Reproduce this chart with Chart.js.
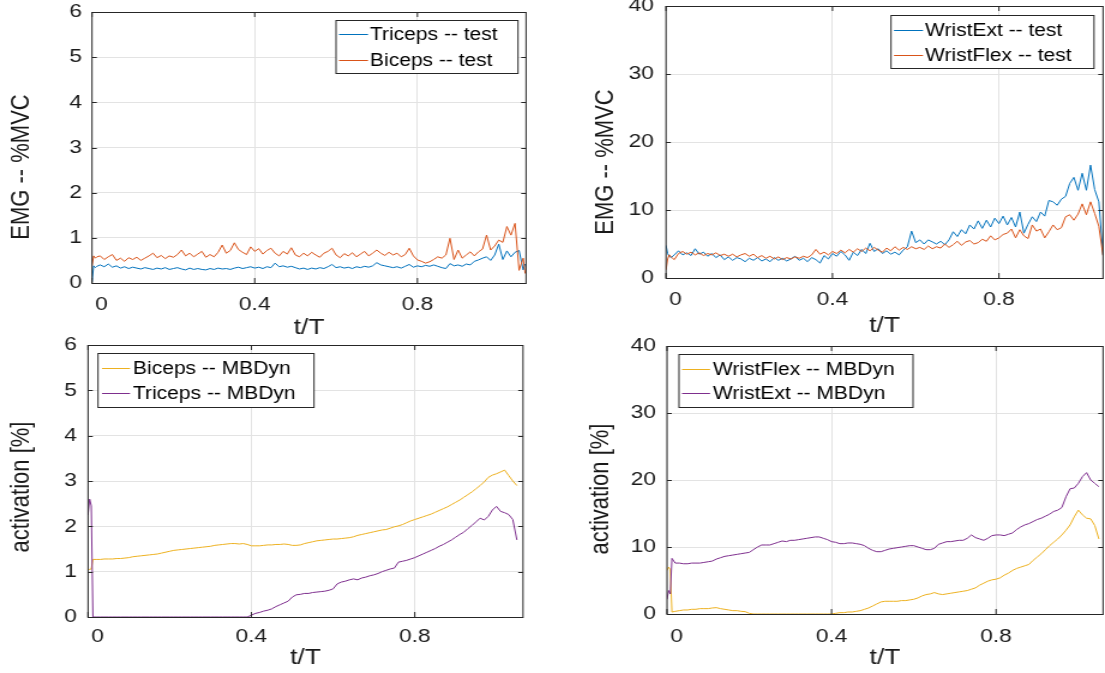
<!DOCTYPE html>
<html>
<head>
<meta charset="utf-8">
<script src="https://cdn.jsdelivr.net/npm/chart.js@4.4.0/dist/chart.umd.min.js"></script>
<style>
  html, body { margin: 0; padding: 0; background: #fff; }
  body { width: 1105px; height: 673px; position: relative; overflow: hidden; }
  canvas { position: absolute; transform-origin: 0 0; }
</style>
</head>
<body>
<canvas id="tl"></canvas>
<canvas id="tr"></canvas>
<canvas id="bl"></canvas>
<canvas id="br"></canvas>
<script>
// sample times t/T (shared by all four panels)
const tGrid = [
  0, 0.004, 0.008, 0.012,
  0.02, 0.03, 0.04, 0.05, 0.06, 0.07, 0.08, 0.09,
  0.10, 0.11, 0.12, 0.13, 0.14, 0.15, 0.16, 0.17, 0.18, 0.19,
  0.20, 0.21, 0.22, 0.23, 0.24, 0.25, 0.26, 0.27, 0.28, 0.29,
  0.30, 0.31, 0.32, 0.33, 0.34, 0.35, 0.36, 0.37, 0.38, 0.39,
  0.40, 0.41, 0.42, 0.43, 0.44, 0.45, 0.46, 0.47, 0.48, 0.49,
  0.50, 0.51, 0.52, 0.53, 0.54, 0.55, 0.56, 0.57, 0.58, 0.59,
  0.60, 0.61, 0.62, 0.63, 0.64, 0.65, 0.66, 0.67, 0.68, 0.69,
  0.70, 0.71, 0.72, 0.73, 0.74, 0.75, 0.76, 0.77, 0.78, 0.79,
  0.80, 0.81, 0.82, 0.83, 0.84, 0.85, 0.86, 0.87, 0.88, 0.89,
  0.90, 0.91, 0.92, 0.93, 0.94, 0.95, 0.96, 0.97, 0.98, 0.99,
  1.00, 1.01, 1.02, 1.03, 1.04, 1.05, 1.06, 1.065
];

// top left: EMG elbow muscles (%MVC)
const tricepsTest = [
  0.02, 0.38, 0.34, 0.37,
  0.40, 0.36, 0.42, 0.35, 0.38, 0.33, 0.36, 0.32,
  0.35, 0.33, 0.31, 0.34, 0.32, 0.30, 0.33, 0.31, 0.34, 0.30,
  0.32, 0.34, 0.31, 0.29, 0.33, 0.30, 0.32, 0.30, 0.29, 0.32,
  0.30, 0.33, 0.31, 0.32, 0.30, 0.33, 0.35, 0.32, 0.34, 0.36,
  0.33, 0.35, 0.32, 0.36, 0.34, 0.44, 0.36, 0.38, 0.35, 0.37,
  0.34, 0.31, 0.33, 0.30, 0.33, 0.31, 0.34, 0.32, 0.36, 0.41,
  0.34, 0.36, 0.33, 0.35, 0.32, 0.36, 0.34, 0.37, 0.35, 0.38,
  0.45, 0.40, 0.38, 0.36, 0.34, 0.36, 0.33, 0.37, 0.41, 0.35,
  0.38, 0.36, 0.39, 0.37, 0.40, 0.37, 0.34, 0.32, 0.43, 0.38,
  0.40, 0.37, 0.42, 0.40, 0.48, 0.51, 0.55, 0.58, 0.50, 0.62,
  0.86, 0.52, 0.71, 0.58, 0.68, 0.72, 0.29, 0.42
];
const bicepsTest = [
  0.38, 0.60, 0.55, 0.58,
  0.60, 0.52, 0.58, 0.63, 0.50, 0.55, 0.48, 0.56,
  0.52, 0.57, 0.50, 0.55, 0.60, 0.66, 0.56, 0.61, 0.54, 0.60,
  0.57, 0.63, 0.73, 0.60, 0.66, 0.58, 0.64, 0.70, 0.57, 0.63,
  0.58, 0.68, 0.84, 0.66, 0.72, 0.89, 0.74, 0.68, 0.63, 0.80,
  0.70, 0.76, 0.64, 0.72, 0.77, 0.66, 0.60, 0.70, 0.64, 0.78,
  0.62, 0.58, 0.66, 0.60, 0.68, 0.62, 0.57, 0.66, 0.70, 0.77,
  0.62, 0.56, 0.65, 0.60, 0.67, 0.58, 0.64, 0.70, 0.60, 0.66,
  0.73, 0.66, 0.61, 0.68, 0.62, 0.66, 0.58, 0.63, 0.77, 0.60,
  0.51, 0.48, 0.44, 0.47, 0.52, 0.58, 0.55, 0.62, 0.99, 0.52,
  0.73, 0.55, 0.62, 0.69, 0.60, 0.69, 0.75, 1.06, 0.73, 0.82,
  0.95, 0.90, 1.25, 1.06, 1.32, 0.28, 0.55, 0.21
];

// top right: EMG wrist muscles (%MVC)
const wristExtTest = [
  4.8, 3.6, 3.2, 3.0,
  3.4, 4.0, 3.4, 3.7, 3.3, 4.3, 3.5, 3.8,
  3.2, 3.6, 3.0, 3.4, 2.7, 3.1, 2.6, 3.0, 2.8, 2.4,
  2.9, 2.6, 3.0, 2.5, 2.8, 2.4, 3.0, 2.6, 2.9, 2.5,
  2.8, 3.2, 2.6, 2.9, 2.4, 3.0, 2.7, 2.2, 3.3, 2.8,
  3.6, 3.2, 3.9, 3.4, 2.6, 3.8, 3.3, 4.2, 3.6, 5.1,
  3.9, 4.3, 3.6, 4.0, 3.5, 3.8, 3.4, 4.1, 4.6, 6.9,
  5.2, 5.6, 5.0, 5.6, 5.3, 5.0, 5.4, 4.9, 5.6, 6.8,
  6.1, 7.1, 6.5, 7.8, 7.2, 8.4, 7.3, 8.5, 7.5, 8.8,
  8.0, 9.1, 7.8, 8.9, 7.5, 9.7, 6.6, 7.9, 9.0, 8.3,
  9.7, 9.1, 11.4, 11.2, 10.7, 11.6, 12.0, 13.9, 14.8, 12.9,
  15.4, 12.9, 16.6, 13.0, 11.2, 3.4
];
const wristFlexTest = [
  1.2, 2.8, 3.4, 3.1,
  2.7, 3.6, 3.9, 3.5, 3.8, 3.4, 3.7, 3.3,
  3.6, 3.4, 3.7, 3.3, 3.5, 3.2, 3.5, 3.1, 3.4, 3.6,
  3.2, 3.5, 3.0, 3.3, 2.9, 3.2, 2.8, 3.1, 2.7, 3.0,
  2.8, 3.1, 2.9, 3.2, 3.0, 3.4, 4.2, 3.5, 3.8, 3.4,
  3.9, 3.6, 4.1, 3.7, 4.2, 3.8, 4.3, 3.9, 4.4, 4.0,
  4.5, 4.1, 3.8, 4.4, 4.0, 4.6, 4.1, 4.5, 4.2, 4.6,
  4.3, 4.5, 4.2, 4.7, 4.3, 4.6, 4.4, 5.0, 4.5, 4.9,
  5.4, 4.8, 5.3, 5.5, 5.0, 5.2, 5.7, 5.4, 6.2, 5.6,
  5.9, 6.4, 6.6, 7.2, 5.9, 7.1, 6.2, 5.8, 7.8, 6.9,
  7.2, 5.9, 6.8, 7.8, 7.1, 7.4, 9.0, 9.3, 8.5, 9.4,
  10.9, 9.3, 11.2, 9.5, 7.6, 3.3
];

// bottom left: MBDyn activation, elbow (%)
const bicepsMB = [
  1.05, 1.05, 1.06, 1.27,
  1.27, 1.27, 1.28, 1.28, 1.28, 1.29, 1.29, 1.30,
  1.31, 1.33, 1.34, 1.35, 1.36, 1.37, 1.38, 1.39, 1.41, 1.43,
  1.45, 1.47, 1.48, 1.49, 1.50, 1.51, 1.52, 1.53, 1.54, 1.55,
  1.56, 1.58, 1.59, 1.60, 1.61, 1.62, 1.62, 1.61, 1.62, 1.60,
  1.57, 1.57, 1.57, 1.58, 1.59, 1.59, 1.60, 1.60, 1.61, 1.60,
  1.58, 1.58, 1.59, 1.62, 1.64, 1.66, 1.68, 1.69, 1.70, 1.71,
  1.72, 1.72, 1.73, 1.74, 1.75, 1.77, 1.80, 1.82, 1.84, 1.86,
  1.88, 1.90, 1.92, 1.93, 1.96, 1.99, 2.01, 2.04, 2.08, 2.12,
  2.15, 2.18, 2.21, 2.24, 2.27, 2.31, 2.35, 2.39, 2.43, 2.48,
  2.53, 2.58, 2.64, 2.70, 2.76, 2.83, 2.90, 2.98, 3.08, 3.13,
  3.16, 3.20, 3.24, 3.12, 3.00, 2.90
];
const tricepsMB = [
  2.25, 2.60, 2.45, 0,
  0, 0, 0, 0, 0, 0, 0, 0,
  0, 0, 0, 0, 0, 0, 0, 0, 0, 0,
  0, 0, 0, 0, 0, 0, 0, 0, 0, 0,
  0, 0, 0, 0, 0, 0, 0, 0, 0, 0,
  0.04, 0.08, 0.10, 0.13, 0.15, 0.18, 0.23, 0.27, 0.31, 0.35,
  0.44, 0.49, 0.50, 0.52, 0.52, 0.54, 0.55, 0.56, 0.57, 0.59,
  0.62, 0.73, 0.77, 0.79, 0.82, 0.84, 0.82, 0.86, 0.88, 0.91,
  0.93, 0.96, 1.00, 1.03, 1.06, 1.08, 1.21, 1.23, 1.25, 1.28,
  1.31, 1.35, 1.39, 1.43, 1.47, 1.51, 1.56, 1.60, 1.65, 1.70,
  1.76, 1.82, 1.87, 1.95, 2.02, 2.10, 2.18, 2.14, 2.22, 2.36,
  2.44, 2.33, 2.30, 2.26, 2.15, 1.70
];

// bottom right: MBDyn activation, wrist (%)
const wristFlexMB = [
  6.5, 7.0, 6.6, 0.3,
  0.4, 0.5, 0.6, 0.6, 0.7, 0.7, 0.8, 0.8,
  0.8, 0.9, 0.95, 0.8, 0.7, 0.6, 0.5, 0.5, 0.4, 0.35,
  0.1, 0, 0, 0, 0, 0, 0, 0, 0, 0,
  0, 0, 0, 0, 0, 0, 0, 0, 0, 0,
  0, 0.1, 0.2, 0.2, 0.3, 0.3, 0.4, 0.5, 0.7, 0.9,
  1.2, 1.5, 1.8, 1.9, 1.9, 1.9, 1.9, 2.0, 2.0, 2.1,
  2.2, 2.4, 2.7, 2.9, 3.0, 3.2, 3.0, 2.9, 3.0, 3.1,
  3.2, 3.3, 3.4, 3.5, 3.7, 3.9, 4.3, 4.6, 4.9, 5.1,
  5.2, 5.4, 5.8, 6.1, 6.5, 6.8, 7.0, 7.2, 7.4, 8.0,
  8.5, 9.0, 9.6, 10.2, 10.7, 11.2, 11.8, 12.5, 13.3, 14.5,
  15.5, 14.8, 14.3, 14.2, 13.2, 11.2
];
const wristExtMB = [
  2.2, 3.5, 3.0, 8.3,
  7.6, 7.6, 7.5, 7.5, 7.6, 7.6, 7.6, 7.7,
  7.8, 7.9, 8.2, 8.4, 8.6, 8.7, 8.8, 8.9, 9.0, 9.1,
  9.2, 9.6, 10.0, 10.3, 10.3, 10.3, 10.5, 10.7, 10.9, 10.8,
  11.0, 11.0, 11.1, 11.2, 11.3, 11.4, 11.5, 11.5, 11.3, 11.1,
  10.8, 10.7, 10.5, 10.5, 10.6, 10.6, 10.5, 10.4, 10.2, 9.8,
  9.5, 9.3, 9.3, 9.5, 9.7, 9.8, 9.9, 10.0, 10.1, 10.2,
  10.2, 10.0, 9.8, 9.6, 9.6, 9.8, 10.4, 10.6, 10.8, 10.8,
  10.9, 11.0, 11.0, 11.3, 11.8, 11.4, 11.2, 11.0, 11.3, 11.7,
  11.8, 11.8, 11.7, 11.9, 12.1, 12.6, 13.0, 13.3, 13.5, 13.8,
  14.1, 14.3, 14.6, 14.9, 15.3, 15.5, 15.9, 17.5, 18.7, 18.8,
  19.5, 20.5, 21.1, 20.0, 19.5, 19.0
];

const xTicks = [0, 0.4, 0.8];

const BLUE = '#0072BD', ORANGE = '#D95319', YELLOW = '#EDB120', PURPLE = '#7E2F8E';
const FONT = '"Liberation Sans", Arial, sans-serif';
const GRID = '#e3e3e3';
const AXIS = '#262626';
const TEXT = '#1a1a1a';
// the original figure is stretched sideways; draw narrow, widen with CSS
const STRETCH = 1.2;

// frame, inward ticks, rotated y label and boxed legend, MATLAB style
const matlabAxes = {
  id: 'matlabAxes',
  afterDatasetsDraw(chart, args, o) {
    const { ctx, chartArea: a, scales } = chart;
    ctx.save();
    ctx.strokeStyle = AXIS;
    ctx.lineWidth = 1;
    ctx.beginPath();
    scales.x.ticks.forEach(t => {
      const px = scales.x.getPixelForValue(t.value);
      ctx.moveTo(px, a.bottom); ctx.lineTo(px, a.bottom - 5);
      ctx.moveTo(px, a.top); ctx.lineTo(px, a.top + 5);
    });
    scales.y.ticks.forEach(t => {
      const py = Math.round(scales.y.getPixelForValue(t.value)) + 0.5;
      ctx.moveTo(a.left, py); ctx.lineTo(a.left + 4, py);
      ctx.moveTo(a.right, py); ctx.lineTo(a.right - 4, py);
    });
    ctx.stroke();
    ctx.strokeRect(a.left, Math.round(a.top) + 0.5, a.right - a.left, Math.round(a.bottom - a.top));

    // y label
    ctx.save();
    ctx.translate(o.yTitle.x, o.yTitle.y);
    ctx.rotate(-Math.PI / 2);
    ctx.fillStyle = TEXT;
    ctx.font = '22px ' + FONT;
    ctx.textAlign = 'center';
    ctx.textBaseline = 'middle';
    ctx.fillText(o.yTitle.text, 0, 0);
    ctx.restore();

    // legend
    const L = o.legend;
    ctx.fillStyle = '#fff';
    ctx.fillRect(L.x, L.y, L.w, L.h);
    ctx.strokeStyle = AXIS;
    ctx.strokeRect(L.x, L.y + 0.5, L.w, L.h);
    ctx.font = '17.5px ' + FONT;
    ctx.textAlign = 'left';
    ctx.textBaseline = 'middle';
    chart.data.datasets.forEach((ds, i) => {
      const y = L.rows[i];
      ctx.strokeStyle = ds.borderColor;
      ctx.beginPath();
      ctx.moveTo(L.line[0], y + 0.5);
      ctx.lineTo(L.line[1], y + 0.5);
      ctx.stroke();
      ctx.fillStyle = '#000';
      ctx.fillText(ds.label, L.text, y + 1);
    });
    ctx.restore();
  }
};

// p holds page-pixel positions measured on the original figure
function makePanel(id, p) {
  const canvas = document.getElementById(id);
  const cw = Math.round(p.width / STRETCH);
  canvas.width = cw;
  canvas.height = p.height;
  canvas.style.left = p.left + 'px';
  canvas.style.top = p.top + 'px';
  canvas.style.transform = 'scaleX(' + STRETCH + ')';
  const ix = x => (x - p.left) / STRETCH;
  const iy = y => y - p.top;
  const A = p.area;
  const yAxisW = ix(A.l);
  const xAxisH = p.height - iy(A.b);
  const L = p.legend;

  return new Chart(canvas, {
    type: 'line',
    data: {
      datasets: p.series.map((s, i) => ({
        label: s.label,
        data: s.values.map((v, k) => ({ x: tGrid[k], y: v })),
        borderColor: s.color,
        borderWidth: 1,
        pointRadius: 0,
        tension: 0,
        fill: false,
        order: -i
      }))
    },
    options: {
      responsive: false,
      animation: false,
      devicePixelRatio: 1,
      layout: { padding: { left: 0, bottom: 0, top: iy(A.t), right: cw - ix(A.r) } },
      plugins: {
        legend: { display: false },
        tooltip: { enabled: false },
        matlabAxes: {
          yTitle: { text: p.yTitle.text, x: ix(p.yTitle.x), y: iy(p.yTitle.y) },
          legend: {
            x: ix(L.x0), y: iy(L.y0), w: (L.x1 - L.x0) / STRETCH, h: L.y1 - L.y0,
            line: [ix(L.line[0]), ix(L.line[1])], text: ix(L.text),
            rows: L.rows.map(iy)
          }
        }
      },
      scales: {
        x: {
          type: 'linear',
          min: 0,
          max: p.xMax,
          afterFit: s => { s.height = xAxisH; s.paddingLeft = 0; s.paddingRight = 0; },
          afterBuildTicks: s => { s.ticks = xTicks.map(v => ({ value: v })); },
          ticks: {
            autoSkip: false, maxRotation: 0, padding: p.xTickPad,
            color: TEXT, font: { family: FONT, size: 19 },
            callback: v => (v === 0 ? '   0' : String(v))
          },
          grid: { color: GRID, drawTicks: false },
          border: { display: false },
          title: {
            display: true, text: 't/T', color: TEXT,
            font: { family: FONT, size: 22 },
            padding: { top: 0, bottom: p.xTitlePad }
          }
        },
        y: {
          min: 0,
          max: p.yMax,
          afterFit: s => { s.width = yAxisW; s.paddingTop = 0; s.paddingBottom = 0; },
          ticks: {
            stepSize: p.yStep, padding: (A.l - p.yLabelRight) / STRETCH,
            color: TEXT, font: { family: FONT, size: 19 }
          },
          grid: { color: GRID, drawTicks: false },
          border: { display: false }
        }
      }
    },
    plugins: [matlabAxes]
  });
}

makePanel('tl', {
  left: 0, top: 0, width: 553, height: 345,
  area: { l: 92, r: 526, t: 12, b: 283 },
  series: [
    { label: 'Triceps -- test', values: tricepsTest, color: BLUE },
    { label: 'Biceps -- test', values: bicepsTest, color: ORANGE }
  ],
  xTickPad: 10, yLabelRight: 82, xTitlePad: 4,
  xMax: 1.067, yMax: 6, yStep: 1,
  yTitle: { text: 'EMG -- %MVC', x: 22, y: 167 },
  legend: { x0: 336, x1: 518, y0: 20, y1: 73, line: [339, 368], text: 370, rows: [34, 60] }
});

makePanel('tr', {
  left: 553, top: 0, width: 552, height: 345,
  area: { l: 666, r: 1103, t: 6, b: 278 },
  series: [
    { label: 'WristExt -- test', values: wristExtTest, color: BLUE },
    { label: 'WristFlex -- test', values: wristFlexTest, color: ORANGE }
  ],
  xTickPad: 10, yLabelRight: 654, xTitlePad: 6,
  xMax: 1.05, yMax: 40, yStep: 10,
  yTitle: { text: 'EMG -- %MVC', x: 606, y: 162 },
  legend: { x0: 891, x1: 1094, y0: 15, y1: 68, line: [894, 923], text: 925, rows: [30, 55] }
});

makePanel('bl', {
  left: 0, top: 336, width: 553, height: 337,
  area: { l: 88, r: 523, t: 345, b: 617 },
  series: [
    { label: 'Biceps -- MBDyn', values: bicepsMB, color: YELLOW },
    { label: 'Triceps -- MBDyn', values: tricepsMB, color: PURPLE }
  ],
  xTickPad: 8, yLabelRight: 77, xTitlePad: 1.5,
  xMax: 1.065, yMax: 6, yStep: 1,
  yTitle: { text: 'activation [%]', x: 21.5, y: 487 },
  legend: { x0: 98, x1: 314, y0: 353, y1: 407, line: [102, 130], text: 133, rows: [368, 393] }
});

makePanel('br', {
  left: 553, top: 336, width: 552, height: 337,
  area: { l: 667, r: 1103, t: 346, b: 614 },
  series: [
    { label: 'WristFlex -- MBDyn', values: wristFlexMB, color: YELLOW },
    { label: 'WristExt -- MBDyn', values: wristExtMB, color: PURPLE }
  ],
  xTickPad: 11, yLabelRight: 656, xTitlePad: 1.5,
  xMax: 1.06, yMax: 40, yStep: 10,
  yTitle: { text: 'activation [%]', x: 601.5, y: 489 },
  legend: { x0: 679, x1: 913, y0: 354, y1: 407, line: [682, 710], text: 713, rows: [369, 393] }
});
</script>
</body>
</html>
